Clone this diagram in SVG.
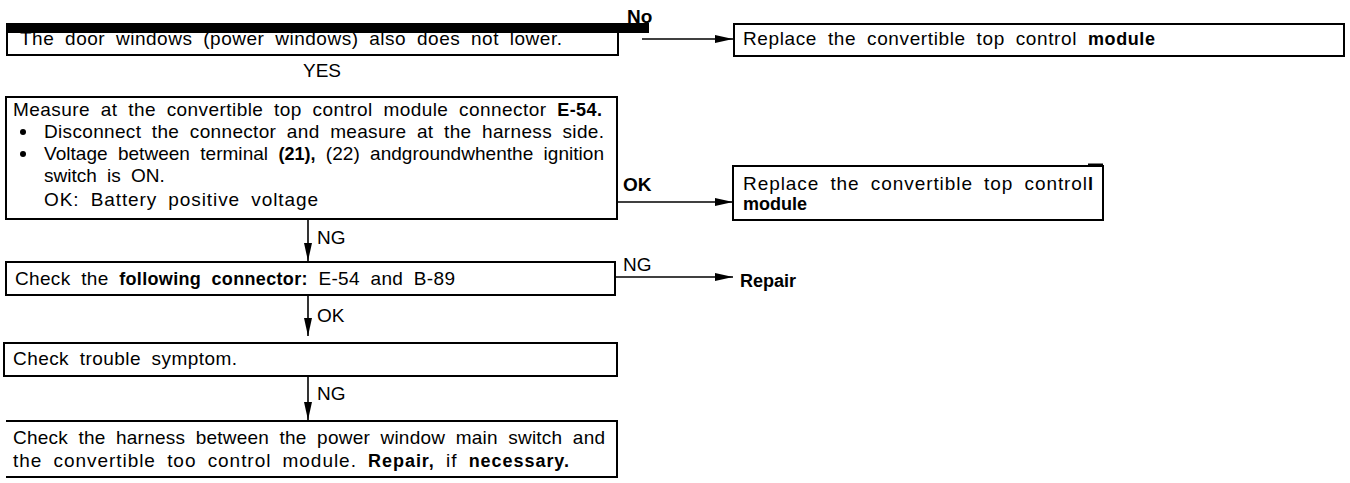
<svg xmlns="http://www.w3.org/2000/svg" width="1350" height="483" viewBox="0 0 1350 483">
<defs>
<style>
text{font-family:"Liberation Sans Narrow","Arial Narrow","Liberation Sans",Arial,sans-serif;font-size:19px;fill:#000;word-spacing:5px}
.b{font-weight:bold;font-family:"Liberation Sans",Arial,sans-serif;font-size:18px}
.lbl{font-size:19px;word-spacing:0}
.box{fill:none;stroke:#000;stroke-width:2}
.con{fill:none;stroke:#000;stroke-width:1.6}
</style>
<marker id="ah" viewBox="0 0 18 8" refX="18" refY="4" markerWidth="18" markerHeight="8" markerUnits="userSpaceOnUse" orient="auto">
<path d="M0,0 L18,4 L0,8 Z" fill="#000"/>
</marker>
</defs>
<rect width="1350" height="483" fill="#fff"/>

<g id="n1">
<rect class="box" x="7" y="24" width="611" height="31"/>
<text x="20" y="45" textLength="542" lengthAdjust="spacing">The door windows (power windows) also does not lower.</text>
<rect x="8" y="23" width="641" height="10" fill="#000"/>
</g>

<g id="n2">
<rect class="box" x="734" y="24" width="610" height="32"/>
<text x="743" y="45" textLength="412" lengthAdjust="spacing">Replace the convertible top control <tspan class="b">module</tspan></text>
</g>

<g id="n3">
<rect class="box" x="6" y="97" width="611" height="122"/>
<text x="13" y="116" textLength="589" lengthAdjust="spacing">Measure at the convertible top control module connector <tspan class="b">E-54.</tspan></text>
<circle cx="23" cy="132" r="3"/>
<text x="44" y="138" textLength="560" lengthAdjust="spacing">Disconnect the connector and measure at the harness side.</text>
<circle cx="23" cy="154" r="3"/>
<text x="44" y="160" textLength="560" lengthAdjust="spacing">Voltage between terminal <tspan class="b">(21),</tspan> (22) andgroundwhenthe ignition</text>
<text x="44" y="182">switch is ON.</text>
<text x="44" y="206" textLength="274" lengthAdjust="spacing">OK: Battery positive voltage</text>
</g>

<g id="n4">
<rect class="box" x="733" y="166" width="370" height="54"/>
<line x1="1088" y1="165" x2="1103" y2="165" stroke="#000" stroke-width="3"/>
<text x="743" y="190" textLength="350" lengthAdjust="spacing">Replace the convertible top control<tspan class="b">l</tspan></text>
<text class="b" x="743" y="210">module</text>
</g>

<g id="n5">
<rect class="box" x="6" y="262" width="609" height="33"/>
<text x="15" y="285" textLength="440" lengthAdjust="spacing">Check the <tspan class="b">following connector:</tspan> E-54 and B-89</text>
</g>

<g id="n6">
<text class="b" x="740" y="287">Repair</text>
</g>

<g id="n7">
<rect class="box" x="4" y="343" width="613" height="33"/>
<text x="13" y="365" textLength="224" lengthAdjust="spacing">Check trouble symptom.</text>
</g>

<g id="n8">
<path class="box" d="M6,421 H617 V477 H6"/>
<text x="13" y="444" textLength="592" lengthAdjust="spacing">Check the harness between the power window main switch and</text>
<text x="13" y="467" textLength="556" lengthAdjust="spacing">the convertible too control module. <tspan class="b">Repair,</tspan> if <tspan class="b">necessary.</tspan></text>
</g>

<g id="connectors">
<line class="con" x1="642" y1="39" x2="733" y2="39" marker-end="url(#ah)"/>
<text class="lbl b" x="627" y="23">No</text>
<text class="lbl" x="303" y="77">YES</text>
<line class="con" x1="617" y1="202" x2="733" y2="202" marker-end="url(#ah)"/>
<text class="lbl b" x="623" y="191">OK</text>
<line class="con" x1="308" y1="219" x2="308" y2="261" marker-end="url(#ah)"/>
<text class="lbl" x="317" y="244">NG</text>
<line class="con" x1="615" y1="277" x2="733" y2="277" marker-end="url(#ah)"/>
<text class="lbl" x="623" y="271">NG</text>
<line class="con" x1="308" y1="295" x2="308" y2="336" marker-end="url(#ah)"/>
<text class="lbl" x="317" y="322">OK</text>
<line class="con" x1="308" y1="376" x2="308" y2="420" marker-end="url(#ah)"/>
<text class="lbl" x="317" y="400">NG</text>
</g>
</svg>
